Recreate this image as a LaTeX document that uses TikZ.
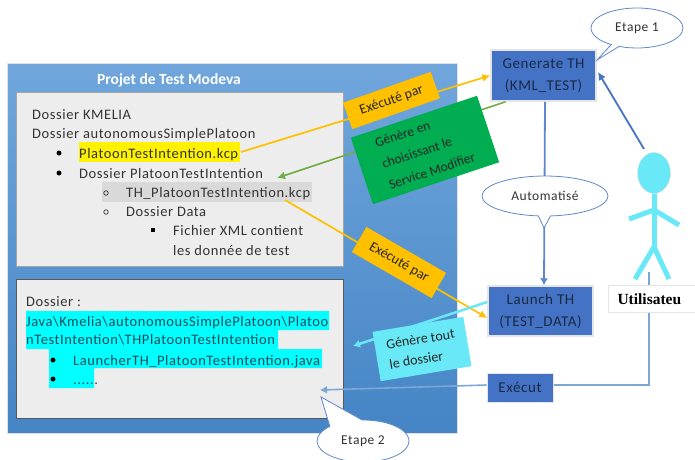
\documentclass[tikz,border=0pt]{standalone}
\usepackage{fontspec}
\setmainfont{Carlito}
\newfontfamily\lab[LetterSpace=4]{Carlito}
\newfontfamily\ser{Liberation Serif}
\usetikzlibrary{shapes.geometric,shapes.callouts,arrows.meta,calc}
\definecolor{txt}{HTML}{333333}
\definecolor{bx}{HTML}{EDEDED}
\definecolor{bl}{HTML}{4472C4}
\definecolor{yl}{HTML}{FFC000}
\definecolor{gr}{HTML}{00AD50}
\definecolor{cy}{HTML}{69E9F7}
\definecolor{dk}{HTML}{1B2A45}
\definecolor{ptop}{HTML}{70A6DC}
\definecolor{pbot}{HTML}{4585C5}
\definecolor{hcy}{HTML}{00FFFF}
\definecolor{lgr}{HTML}{70AD47}
\definecolor{run}{HTML}{7BA7D7}
\definecolor{tct}{HTML}{0F4C5C}
\tikzset{
 tx/.style={anchor=base west,inner sep=0pt,text=txt,font=\lab\fontsize{14.5}{15}\selectfont},
 tc/.style={tx,text=tct},
 folder/.style={draw=#1,fill=bx,line width=1pt,inner sep=0pt,anchor=north west},
 flow/.style={fill=bl,draw=black!10,line width=1.5pt,inner sep=0pt,align=center,text=dk,font=\lab\fontsize{15}{22}\selectfont},
 tag/.style={inner sep=0pt,align=left,text=black!85,font=\fontsize{14}{20}\selectfont},
 bubble/.style={ellipse callout,draw=bl!85,fill=white,line width=0.8pt,inner sep=0pt,text=txt,font=\lab\fontsize{13.5}{15}\selectfont,callout pointer arc=11},
 yarrow/.style={draw=yl,line width=1.7pt,-{Latex[length=8pt,width=8pt]}},
 limb/.style={draw=cy,line width=5pt},
 bdisc/.style={circle,fill=black,inner sep=0pt,minimum size=5pt},
 bring/.style={circle,draw=black!80,line width=0.7pt,inner sep=0pt,minimum size=4.5pt},
 bsq/.style={fill=black,inner sep=0pt,minimum size=4pt},
}
\begin{document}
\begin{tikzpicture}[x=1pt,y=-1pt]
\useasboundingbox (0,0) rectangle (695,459);
\clip (0,0) rectangle (695,459);
% panel
\node[draw=black!12,line width=0.8pt,top color=ptop,bottom color=pbot,minimum width=450pt,minimum height=370pt,inner sep=0pt,anchor=north west] (panel) at (7,63) {};
\node[anchor=center,text=white,font=\bfseries\fontsize{15.5}{17}\selectfont] (title) at (169,80) {Projet de Test Modeva};
\node[folder=black!35,minimum width=327pt,minimum height=174pt] (top) at (16,92) {};
\node[folder=black!65,minimum width=327pt,minimum height=139pt] (bot) at (16,279) {};
% highlights
\fill[yellow] (79,142) rectangle (240,162);
\fill[black!15] (102,182) rectangle (312,202);
\fill[hcy] (26,311) rectangle (329,330) (26,330) rectangle (278,349) (49,349) rectangle (322,368) (49,368) rectangle (94,388);
\coordinate (pk) at (241,152);
\coordinate (thk) at (285,200);
\coordinate (gen-in) at (277,178);
% top text
\node[tx] (t1) at (32,119) {Dossier KMELIA};
\node[tx] (t2) at (32,138) {Dossier autonomousSimplePlatoon};
\node[bdisc] (b1) at (59,153) {};
\node[tx] (t3) at (79,158) {PlatoonTestIntention.kcp};
\node[bdisc] (b2) at (59,173) {};
\node[tx] (t4) at (79,178) {Dossier PlatoonTestIntention};
\node[bring] (b3) at (106,193) {};
\node[tx] (t5) at (126,197) {TH\_PlatoonTestIntention.kcp};
\node[bring] (b4) at (106,212) {};
\node[tx] (t6) at (126,216) {Dossier Data};
\node[bsq] (b5) at (153,230) {};
\node[tx] (t7) at (173,235) {Fichier XML contient};
\node[tx] (t8) at (173,255) {les donnée de test};
% bottom text
\node[tx] (u1) at (26,306) {Dossier :};
\node[tc] (u2) at (26,326) {Java\textbackslash Kmelia\textbackslash autonomousSimplePlatoon\textbackslash Platoo};
\node[tc] (u3) at (26,344) {nTestIntention\textbackslash THPlatoonTestIntention};
\node[bdisc] (u4) at (53,360) {};
\node[tc] (u5) at (73,365) {LauncherTH\_PlatoonTestIntention.java};
\node[bdisc] (u6) at (53,379) {};
\node[tc] (u7) at (73,384) {......};
% boxes
\node[flow,minimum width=105pt,minimum height=51pt] (gen) at (543.5,75.5) {Generate TH\\(KML\_TEST)};
\node[flow,minimum width=105pt,minimum height=50pt] (launch) at (540.5,311) {Launch TH\\(TEST\_DATA)};
% connectors
\coordinate (actor-in) at (644,149);
\draw[bl!85,line width=1.8pt,-{Latex[length=7pt,width=8pt]}] ([xshift=1.5pt]gen.south) -- ([xshift=3.5pt]launch.north);
\draw[bl,line width=1.8pt,-{Latex[length=8pt,width=8pt]}] (actor-in) -- (598,72);
\draw[yarrow] (pk) -- (gen.west);
\draw[yarrow] (thk) -- ([yshift=-7pt]launch.west);
\draw[draw=lgr,line width=1.6pt,-{Latex[length=8pt,width=8pt]}] ([xshift=-38pt]gen.south) -- (gen-in);
\coordinate (dos) at (353,346);
\draw[cy,line width=2.5pt,-{Latex[length=7pt,width=8pt]}] ([yshift=9pt]launch.west) -- (dos);
% run line
\node[fill=bl,draw=black!10,line width=1pt,inner sep=0pt,minimum width=66pt,minimum height=29pt,text=dk,font=\lab\fontsize{15}{17}\selectfont] (exec) at (520,387.5) {Exécut};
\coordinate (run-top) at (649,272);
\coordinate (run-end) at (320,390);
\draw[draw=run,line width=2pt] (run-top) |- ([yshift=2.5pt]exec.east);
\draw[draw=run,line width=1.6pt,-{Latex[length=7pt,width=8pt]}] ([yshift=2.5pt]exec.west) -- (run-end);
% labels
\node[tag,fill=yl,rotate=19.4,minimum width=93pt,minimum height=28pt] (l1) at (391.5,100.5) {Exécuté par};
\node[tag,fill=gr,rotate=18.4,minimum width=133pt,minimum height=70pt,font=\fontsize{13.5}{22}\selectfont] (l2) at (425,150) {Génère en\\choisissant le\\Service Modifier};
\node[tag,fill=yl,rotate=-30,minimum width=92pt,minimum height=29pt] (l3) at (399,262.5) {Exécuté par};
\node[tag,fill=cy,rotate=9.4,minimum width=92pt,minimum height=50pt] (l4) at (422,349) {Génère tout\\le dossier};
% bubbles
\node[bubble,minimum width=92pt,minimum height=40pt,callout absolute pointer={(597,60)}] (e1) at (637,28) {Etape 1};
\node[bubble,minimum width=126pt,minimum height=40pt,callout absolute pointer={(544,228)}] (auto) at (545,196) {Automatisé};
\node[bubble,minimum width=92pt,minimum height=42pt,callout pointer arc=45,callout absolute pointer={(321,397)}] (e2) at (363,441) {Etape 2};
% actor
\draw[limb] (654,190) -- (654,248);
\draw[limb] (629,219) -- (654,210) -- (679,225);
\draw[limb] (635,279) -- (654,247) -- (669,279);
\node[ellipse,fill=cy,draw=black!12,line width=0.5pt,minimum width=33pt,minimum height=41pt,inner sep=0pt] (head) at (654,173) {};
\node[draw=black!10,fill=white,line width=1pt,inner sep=0pt,minimum height=27pt,anchor=west,font=\ser\bfseries\fontsize{15.5}{17}\selectfont] (user) at (608,299) {\makebox[90pt][l]{\hspace{9pt}Utilisateu}};
\end{tikzpicture}
\end{document}
